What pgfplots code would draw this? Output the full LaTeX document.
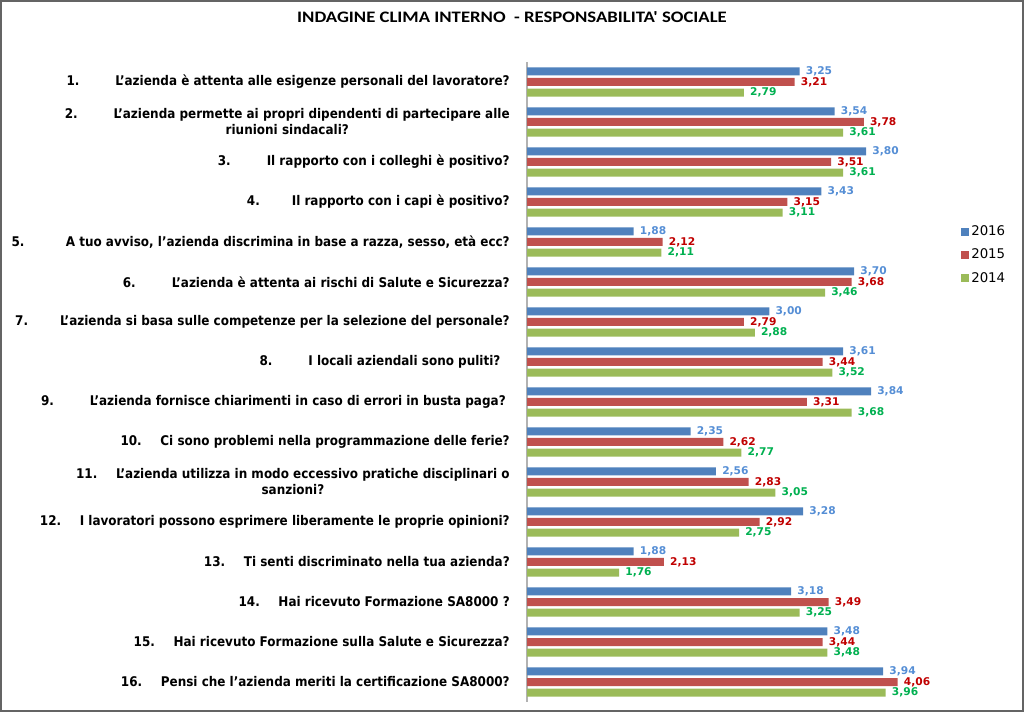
\documentclass[border=0pt]{standalone}
\usepackage{pgfplots}
\pgfplotsset{compat=1.18}
\usepackage{fontspec}
\setmainfont{DejaVu Sans}
\newfontfamily\labfont{DejaVu Sans Condensed}
\newfontfamily\titlefont{Carlito}[Ligatures=TeXOff]
\definecolor{c16}{RGB}{79,129,189}
\definecolor{c15}{RGB}{192,80,77}
\definecolor{c14}{RGB}{155,187,89}
\definecolor{t16}{RGB}{85,142,213}
\definecolor{t15}{RGB}{192,0,0}
\definecolor{t14}{RGB}{0,176,80}
\definecolor{frame}{RGB}{100,100,100}
\newcommand{\gs}{\hspace{27pt}}
\newcommand{\gd}{\hspace{14pt}}
\begin{document}
\begin{tikzpicture}
\begin{axis}[
  at={(395.25pt,7.5pt)}, anchor=south west,
  scale only axis, width=318pt, height=480pt,
  xbar=1.9pt, bar width=6pt,
  xmin=1, xmax=4.5, ymin=0.5, ymax=16.5,
  y dir=reverse,
  axis x line=none, axis y line=left,
  y axis line style={-, draw=gray!60, line width=0.8pt},
  ytick={1,...,16}, major tick length=0pt,
  yticklabels={
    {1.\gs L’azienda è attenta alle esigenze personali del lavoratore?},
    {2.\gs L’azienda permette ai propri dipendenti di partecipare alle\\riunioni sindacali?},
    {3.\gs Il rapporto con i colleghi è positivo?},
    {4.\hspace{24pt}Il rapporto con i capi è positivo?},
    {5.\hspace{31pt}A tuo avviso, l’azienda discrimina in base a razza, sesso, età ecc?},
    {6.\gs L’azienda è attenta ai rischi di Salute e Sicurezza?},
    {7.\hspace{24pt}L’azienda si basa sulle competenze per la selezione del personale?},
    {8.\gs I locali aziendali sono puliti?\hspace{7pt}},
    {9.\gs L’azienda fornisce chiarimenti in caso di errori in busta paga?\hspace{3pt}},
    {10.\gd Ci sono problemi nella programmazione delle ferie?},
    {11.\gd L’azienda utilizza in modo eccessivo pratiche disciplinari o\\sanzioni?},
    {12.\gd I lavoratori possono esprimere liberamente le proprie opinioni?},
    {13.\gd Ti senti discriminato nella tua azienda?},
    {14.\gd Hai ricevuto Formazione SA8000 ?},
    {15.\gd Hai ricevuto Formazione sulla Salute e Sicurezza?},
    {16.\gd Pensi che l’azienda meriti la certificazione SA8000?}
  },
  yticklabel style={font=\labfont\bfseries\fontsize{10}{12}\selectfont, align=center, inner sep=0pt, xshift=-12.75pt, text=black},
  point meta=x,
  nodes near coords={\pgfmathprintnumber[assume math mode=true,use comma,fixed,fixed zerofill,precision=2]{\pgfplotspointmeta}},
  every node near coord/.append style={anchor=west, inner sep=0pt, xshift=4.5pt, font=\bfseries\fontsize{8}{9}\selectfont},
  legend style={at={(1,0.6985)}, anchor=west, xshift=7.5pt, draw=none, fill=none,
    font=\fontsize{10}{11}\selectfont, row sep=5.5pt, inner sep=0pt,
    nodes={inner sep=1.5pt}},
  legend cell align=left,
  legend image code/.code={\fill[#1] (0pt,-3pt) rectangle (6pt,3pt);},
]
\addplot[fill=c16, draw=none, bar shift=7.9pt, every node near coord/.append style={text=t16}] coordinates {
(3.25,1) (3.54,2) (3.80,3) (3.43,4) (1.88,5) (3.70,6) (3.00,7) (3.61,8)
(3.84,9) (2.35,10) (2.56,11) (3.28,12) (1.88,13) (3.18,14) (3.48,15) (3.94,16)};
\addplot[fill=c15, draw=none, bar shift=0pt, every node near coord/.append style={text=t15}] coordinates {
(3.21,1) (3.78,2) (3.51,3) (3.15,4) (2.12,5) (3.68,6) (2.79,7) (3.44,8)
(3.31,9) (2.62,10) (2.83,11) (2.92,12) (2.13,13) (3.49,14) (3.44,15) (4.06,16)};
\addplot[fill=c14, draw=none, bar shift=-7.9pt, every node near coord/.append style={text=t14}] coordinates {
(2.79,1) (3.61,2) (3.61,3) (3.11,4) (2.11,5) (3.46,6) (2.88,7) (3.52,8)
(3.68,9) (2.77,10) (3.05,11) (2.75,12) (1.76,13) (3.25,14) (3.48,15) (3.96,16)};
\legend{2016,2015,2014}
\end{axis}
\node[font=\titlefont\bfseries\fontsize{12}{14}\selectfont, xscale=1.17] at (384pt,521pt) {INDAGINE CLIMA INTERNO\ \ - RESPONSABILITA' SOCIALE};
\draw[frame, line width=1.5pt] (0.75pt,0.75pt) rectangle (767.25pt,533.25pt);
\pgfresetboundingbox
\path[use as bounding box] (0,0) rectangle (768pt,534pt);
\end{tikzpicture}
\end{document}
